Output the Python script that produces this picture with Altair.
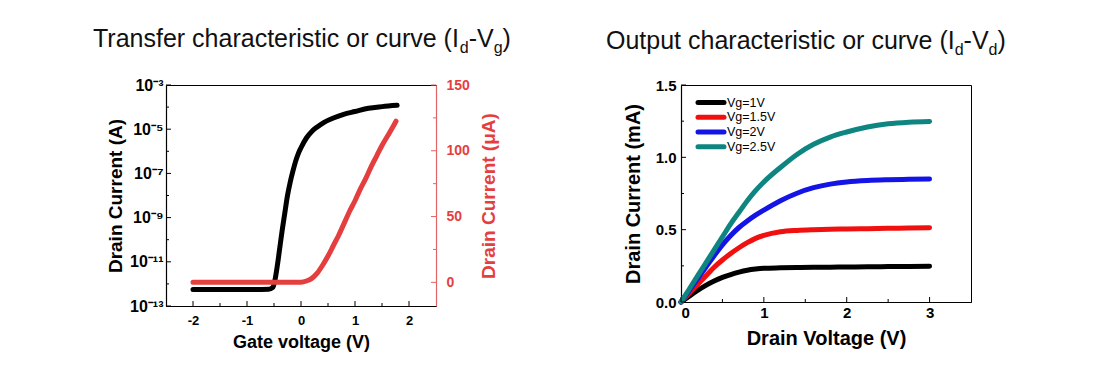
import altair as alt
import pandas as pd

FONT = "Liberation Sans"
RED = "#E53E3E"
RED_AXIS = "#E36464"

# ---------------- Transfer characteristic (left panel) ----------------
gate_v_log = [-2.0, -1.5, -1.0, -0.6, -0.52, -0.48, -0.44, -0.40, -0.35, -0.30, -0.25, -0.20,
              -0.15, -0.10, -0.05, 0.0, 0.1, 0.2, 0.3, 0.42, 0.6, 0.79, 1.0, 1.25, 1.5, 1.78]
drain_i_A = [5.6e-13, 5.6e-13, 5.6e-13, 5.8e-13, 7e-13, 1.6e-12, 6.3e-12, 3.2e-11, 2.5e-10, 1.6e-9,
             1.0e-8, 4.0e-8, 1.26e-7, 3.5e-7, 7.9e-7, 1.45e-6, 4.0e-6, 7.9e-6, 1.26e-5, 2.0e-5,
             3.2e-5, 4.7e-5, 6.3e-5, 8.9e-5, 1.05e-4, 1.2e-4]

gate_v_lin = [-2.0, -1.0, -0.5, 0.0, 0.1, 0.2, 0.3, 0.4, 0.5, 0.6, 0.7, 0.8, 0.9, 1.0, 1.1, 1.2,
              1.3, 1.4, 1.5, 1.6, 1.7, 1.76]
drain_i_uA = [0, 0, 0, 0, 1, 3, 7, 13, 20, 28, 36, 45, 54, 62, 71, 79, 88, 96, 104, 111, 118, 122.5]

left_x_major = [-2, -1, 0, 1, 2]
left_x_minor = [-1.5, -0.5, 0.5, 1.5]
left_y_major = [1e-3, 1e-5, 1e-7, 1e-9, 1e-11, 1e-13]
left_y_minor = [1e-4, 1e-6, 1e-8, 1e-10, 1e-12]
left_y_exps = [3, 5, 7, 9, 11, 13]
left_y_labels = ["10⁻³", "10⁻⁵", "10⁻⁷", "10⁻⁹", "10⁻¹¹", "10⁻¹³"]
red_y_major = [0, 50, 100, 150]
red_y_minor = [25, 75, 125]

# ---------------- Output characteristic (right panel) ----------------
drain_v = [0, 0.1, 0.2, 0.3, 0.4, 0.5, 0.6, 0.7, 0.8, 0.9, 1.0, 1.2, 1.4, 1.6, 1.8, 2.0,
           2.25, 2.5, 2.75, 3.0]
id_vg1 = [0, 0.04, 0.08, 0.115, 0.145, 0.17, 0.19, 0.207, 0.22, 0.228, 0.233, 0.236, 0.238,
          0.24, 0.241, 0.242, 0.243, 0.245, 0.246, 0.247]
id_vg15 = [0, 0.06, 0.12, 0.18, 0.24, 0.29, 0.335, 0.375, 0.41, 0.44, 0.46, 0.485, 0.495,
           0.5, 0.503, 0.505, 0.507, 0.509, 0.511, 0.513]
id_vg2 = [0, 0.08, 0.16, 0.24, 0.32, 0.395, 0.46, 0.515, 0.56, 0.60, 0.635, 0.70, 0.752,
          0.79, 0.815, 0.83, 0.84, 0.845, 0.848, 0.85]
id_vg25 = [0, 0.09, 0.18, 0.27, 0.36, 0.45, 0.54, 0.62, 0.7, 0.77, 0.83, 0.93, 1.02, 1.09,
           1.14, 1.175, 1.21, 1.232, 1.243, 1.248]
series_names = ["Vg=1V", "Vg=1.5V", "Vg=2V", "Vg=2.5V"]
series_colors = ["#000000", "#F01010", "#1414E6", "#0E8580"]

right_x_major = [0, 1, 2, 3]
right_x_minor = [0.5, 1.5, 2.5]
right_y_major = [0, 0.5, 1.0, 1.5]
right_y_minor = [0.25, 0.75, 1.25]

title_left = [("Transfer characteristic or curve (I", 25, 0), ("d", 16, 6), ("-V", 25, 0),
              ("g", 16, 6), (")", 25, 0)]
title_right = [("Output characteristic or curve (I", 25, 0), ("d", 16, 6), ("-V", 25, 0),
               ("d", 16, 6), (")", 25, 0)]

# ---------------- helpers ----------------
ARIAL_W = {' ': 278, '(': 333, ')': 333, '-': 333, 'I': 278, 'V': 667, 'T': 611, 'O': 778,
           'a': 556, 'c': 500, 'd': 556, 'e': 556, 'f': 278, 'g': 556, 'h': 556, 'i': 222,
           'n': 556, 'o': 556, 'p': 556, 'r': 333, 's': 500, 't': 278, 'u': 556, 'v': 500}


def text_width(s, fs):
    return sum(ARIAL_W.get(c, 556) for c in s) * fs / 1000.0


def title_layers(pieces, x0, base_y):
    layers = []
    x = x0
    for text, fs, dy in pieces:
        layers.append(
            alt.Chart(pd.DataFrame({"t": [text]}))
            .mark_text(align="left", baseline="alphabetic", font=FONT, fontSize=fs, color="#111111")
            .encode(x=alt.value(x), y=alt.value(base_y + dy), text="t:N")
        )
        x += text_width(text, fs)
    return layers


def tick_rules(values, field_channel, scale, axis, fixed, length, color="black"):
    df = pd.DataFrame({"v": values})
    base = alt.Chart(df).mark_rule(color=color, strokeWidth=1)
    if field_channel == "x":
        return base.encode(x=alt.X("v:Q", scale=scale, axis=axis),
                           y=alt.value(fixed), y2=alt.value(fixed - length))
    else:
        return base.encode(y=alt.Y("v:Q", scale=scale, axis=axis),
                           x=alt.value(fixed), x2=alt.value(fixed + length))


# ---------------- left panel ----------------
LW, LH = 270, 221
lx_scale = alt.Scale(domain=[-2.5, 2.5], nice=False)
log_scale = alt.Scale(type="log", domain=[1e-13, 1e-3], nice=False)
lin_scale = alt.Scale(domain=[-18, 150], nice=False)

cond = ""
for e, lab in zip(left_y_exps, left_y_labels):
    cond += f"round(log(datum.value)/LN10) == {-e} ? '{lab}' : "
cond += "''"

ax_lx = alt.Axis(values=left_x_major, title="Gate voltage (V)",
                 labelExpr="datum.value < 0 ? '-' + abs(datum.value) : '' + datum.value",
                 labelFontSize=13, labelPadding=8, titleFontSize=18, titlePadding=6)
ax_ly = alt.Axis(values=left_y_major, labelExpr=cond, title="Drain Current (A)",
                 labelFontSize=16, labelPadding=3, titleFontSize=19, titlePadding=4)
ax_ry = alt.Axis(orient="right", values=red_y_major, title="Drain Current (μA)",
                 labelColor=RED, titleColor=RED, domainColor=RED_AXIS,
                 labelFontSize=14, labelPadding=10, titleFontSize=19, titlePadding=10,
                 titleAngle=270, titleBaseline="top")

df_black = pd.DataFrame({"vg": gate_v_log, "id": drain_i_A})
df_red = pd.DataFrame({"vg": gate_v_lin, "id": drain_i_uA})

black = alt.Chart(df_black).mark_line(color="black", strokeWidth=5, interpolate="monotone",
                                      strokeCap="round").encode(
    x=alt.X("vg:Q", scale=lx_scale, axis=ax_lx),
    y=alt.Y("id:Q", scale=log_scale, axis=ax_ly),
)

red = alt.Chart(df_red).mark_line(color=RED, strokeWidth=5, interpolate="monotone",
                                  strokeCap="round").encode(
    x=alt.X("vg:Q", scale=lx_scale, axis=ax_lx),
    y=alt.Y("id:Q", scale=lin_scale, axis=ax_ry),
)

layer_a = alt.layer(
    black,
    tick_rules(left_x_major, "x", lx_scale, ax_lx, LH, 5),
    tick_rules(left_x_minor, "x", lx_scale, ax_lx, LH, 3),
    tick_rules(left_y_major, "y", log_scale, ax_ly, 0, 5),
    tick_rules(left_y_minor, "y", log_scale, ax_ly, 0, 3),
    *title_layers(title_left, -73, -38),
)
layer_b = alt.layer(
    red,
    tick_rules(red_y_major, "y", lin_scale, ax_ry, LW, -5, RED_AXIS),
    tick_rules(red_y_minor, "y", lin_scale, ax_ry, LW, -3, RED_AXIS),
)
left = alt.layer(layer_a, layer_b).resolve_scale(y="independent").properties(width=LW, height=LH)

# ---------------- right panel ----------------
RW, RH = 290, 217
rx_scale = alt.Scale(domain=[0, 3.5], nice=False)
ry_scale = alt.Scale(domain=[0, 1.5], nice=False)
cscale = alt.Scale(domain=series_names, range=series_colors)

ax_rx = alt.Axis(values=right_x_major, title="Drain Voltage (V)", format="d",
                 labelFontSize=15, labelPadding=3, titleFontSize=20, titlePadding=8)
ax_ryy = alt.Axis(values=right_y_major, title="Drain Current (mA)", format=".1f",
                  labelFontSize=15, labelPadding=5, titleFontSize=20, titlePadding=12)

rows = []
for name, vals in zip(series_names, [id_vg1, id_vg15, id_vg2, id_vg25]):
    for v, i in zip(drain_v, vals):
        rows.append({"vd": v, "id": i, "s": name})
df_out = pd.DataFrame(rows)

lines = alt.Chart(df_out).mark_line(strokeWidth=5, interpolate="monotone", strokeCap="round").encode(
    x=alt.X("vd:Q", scale=rx_scale, axis=ax_rx),
    y=alt.Y("id:Q", scale=ry_scale, axis=ax_ryy),
    color=alt.Color("s:N", scale=cscale, legend=None),
    detail="s:N",
)

df_leg = pd.DataFrame({"s": series_names})
leg_y = alt.Y("s:N", scale=alt.Scale(type="point", domain=series_names, range=[17.6, 61.7], padding=0),
              axis=None)
leg_rules = alt.Chart(df_leg).mark_rule(strokeWidth=5, strokeCap="round").encode(
    x=alt.value(17), x2=alt.value(43), y=leg_y,
    color=alt.Color("s:N", scale=cscale, legend=None))
leg_text = alt.Chart(df_leg).mark_text(align="left", baseline="middle", font=FONT, fontSize=12.5,
                                       color="black").encode(
    x=alt.value(46), y=leg_y, text="s:N")

layer_r = alt.layer(
    lines,
    tick_rules(right_x_major, "x", rx_scale, ax_rx, RH, 5),
    tick_rules(right_x_minor, "x", rx_scale, ax_rx, RH, 3),
    tick_rules(right_y_major, "y", ry_scale, ax_ryy, 0, 5),
    tick_rules(right_y_minor, "y", ry_scale, ax_ryy, 0, 3),
    *title_layers(title_right, -75, -36),
)
right = alt.layer(layer_r, alt.layer(leg_rules, leg_text)).resolve_scale(y="independent").properties(
    width=RW, height=RH)

chart = (
    alt.hconcat(left, right, spacing=93)
    .properties(padding={"left": 84, "top": 18, "right": 5, "bottom": 5})
    .configure_view(stroke="black", strokeWidth=1)
    .configure_axis(labelFont=FONT, titleFont=FONT, labelFontWeight="bold", titleFontWeight="bold",
                    domainColor="black", domainWidth=1.2, ticks=False, tickSize=0, grid=False,
                    labelColor="black", titleColor="black")
)

chart.save("out.html", embed_options={"renderer": "svg", "actions": False})
